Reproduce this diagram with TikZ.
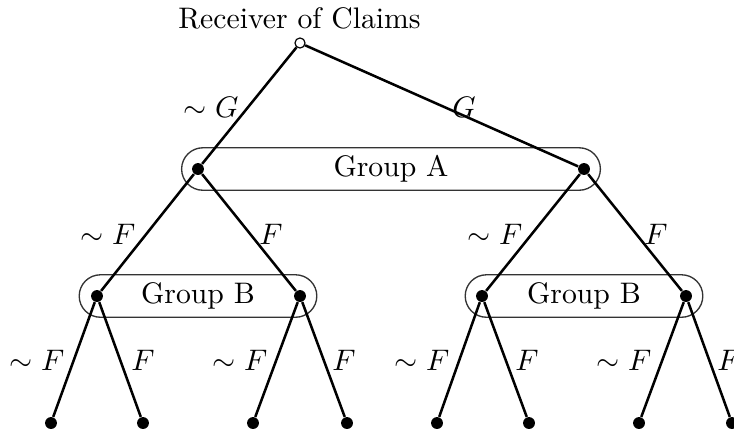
\documentclass[tikz,border=0pt]{standalone}
\usetikzlibrary{shapes.misc}
\begin{document}
\begin{tikzpicture}[x=0.3367pt,y=-0.3367pt,
  edge/.style={line width=0.85pt},
  dot/.style={circle,fill=black,inner sep=0pt,minimum size=4pt},
  opendot/.style={circle,draw=black,fill=white,line width=0.4pt,inner sep=0pt,minimum size=3.4pt},
  groupbox/.style={rounded rectangle,draw=black!80,line width=0.45pt,minimum height=14.3pt,inner sep=0pt},
  lbl/.style={inner sep=0pt}]
\useasboundingbox (0,0) rectangle (734,435);
% group boxes
\node[groupbox,minimum width=141pt] (GA) at (391,169) {Group A};
\node[groupbox,minimum width=80pt] (GBL) at (198,296) {Group B};
\node[groupbox,minimum width=80pt] (GBR) at (584,296) {Group B};
% title
\node[lbl] (title) at (299.5,18) {Receiver of Claims};
% nodes
\node[opendot] (r) at (300,43) {};
\node[dot] (a1) at (198,169) {};
\node[dot] (a2) at (584,169) {};
\node[dot] (b1) at (97,296) {};
\node[dot] (b2) at (300,296) {};
\node[dot] (b3) at (482,296) {};
\node[dot] (b4) at (686,296) {};
\node[dot] (l1) at (51,423) {};
\node[dot] (l2) at (143,423) {};
\node[dot] (l3) at (253,423) {};
\node[dot] (l4) at (347,423) {};
\node[dot] (l5) at (437,423) {};
\node[dot] (l6) at (529,423) {};
\node[dot] (l7) at (639,423) {};
\node[dot] (l8) at (732,423) {};
% edges
\draw[edge] (r) -- (a1);
\draw[edge] (r) -- (a2);
\draw[edge] (a1) -- (b1);
\draw[edge] (a1) -- (b2);
\draw[edge] (a2) -- (b3);
\draw[edge] (a2) -- (b4);
\draw[edge] (b1) -- (l1);
\draw[edge] (b1) -- (l2);
\draw[edge] (b2) -- (l3);
\draw[edge] (b2) -- (l4);
\draw[edge] (b3) -- (l5);
\draw[edge] (b3) -- (l6);
\draw[edge] (b4) -- (l7);
\draw[edge] (b4) -- (l8);
% labels
\node[lbl] (g1) at (211,107) {$\sim G$};
\node[lbl] (g2) at (464,107) {$G$};
\node[lbl] (f1) at (108,234) {$\sim F$};
\node[lbl] (f2) at (271,234) {$F$};
\node[lbl] (f3) at (495,234) {$\sim F$};
\node[lbl] (f4) at (656,234) {$F$};
\node[lbl] (h1) at (37,360) {$\sim F$};
\node[lbl] (h2) at (143,360) {$F$};
\node[lbl] (h3) at (240,360) {$\sim F$};
\node[lbl] (h4) at (344,360) {$F$};
\node[lbl] (h5) at (422,360) {$\sim F$};
\node[lbl] (h6) at (527,360) {$F$};
\node[lbl] (h7) at (624,360) {$\sim F$};
\node[lbl] (h8) at (729,360) {$F$};
\end{tikzpicture}
\end{document}
